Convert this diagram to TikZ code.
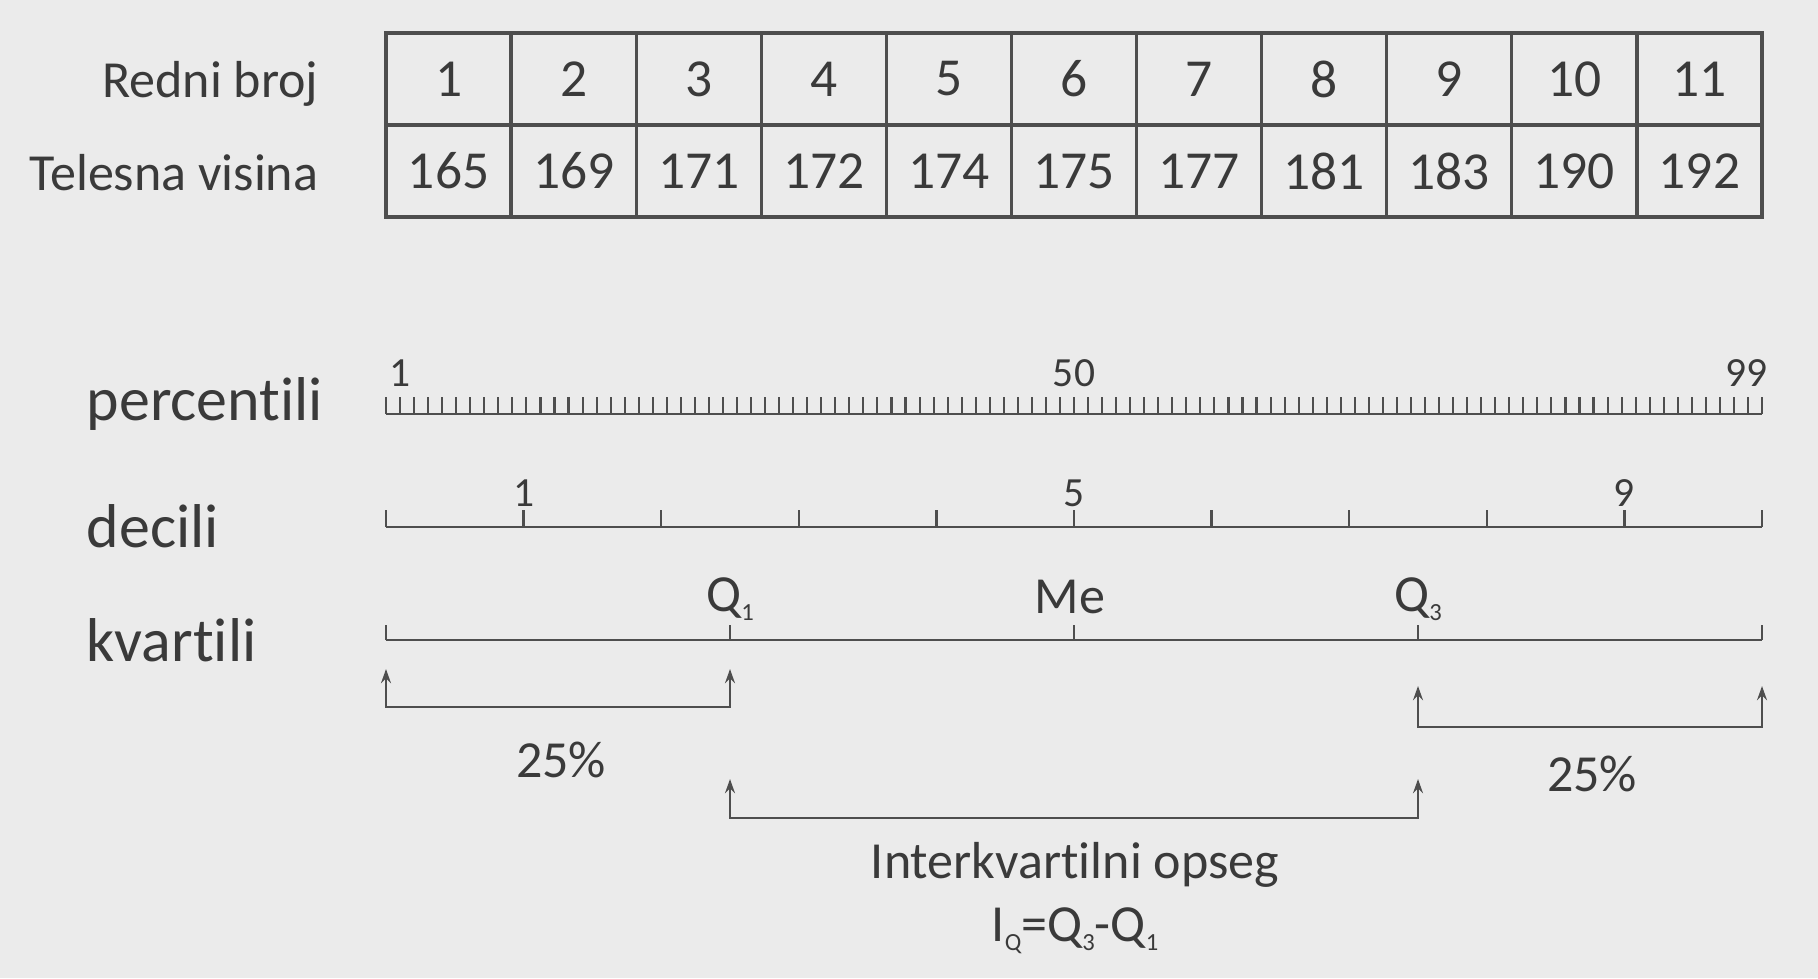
\documentclass[tikz,border=0pt]{standalone}
\usepackage{fontspec}
\setmainfont{Carlito}[Ligatures=NoCommon]
\usetikzlibrary{arrows.meta,positioning,calc}
\definecolor{bggray}{RGB}{235,235,235}
\definecolor{ink}{RGB}{58,58,58}
\definecolor{rule}{RGB}{78,78,78}
\newcommand{\lo}[1]{\raisebox{-0.4ex}{\fontsize{7}{7}\selectfont #1}}

\begin{document}
\begin{tikzpicture}[x=0.01cm,y=-0.01cm,
    c/.style={rectangle,draw=rule,line width=0.9pt,inner sep=0pt,outer sep=0pt,
      minimum width=1.251cm,minimum height=0.92cm,font=\fontsize{15.2}{18}\selectfont,text=ink},
    rl/.style={anchor=base east,inner sep=0pt,font=\fontsize{14.8}{17}\selectfont,text=ink},
    al/.style={anchor=base west,inner sep=0pt,font=\fontsize{17.6}{20}\selectfont,text=ink},
    tl/.style={anchor=base,inner sep=0pt,font=\fontsize{11.8}{13}\selectfont,text=ink},
    ql/.style={anchor=base,inner sep=0pt,font=\fontsize{14.8}{17}\selectfont,text=ink},
    ax/.style={draw=rule,line width=0.7pt},
    a/.style={{Stealth[length=4pt,width=2.8pt]}-{Stealth[length=4pt,width=2.8pt]},rule,line width=0.7pt}]
    \fill[bggray] (0,0) rectangle (1818,978);
    \useasboundingbox (0,0) rectangle (1818,978);
    % table
    \foreach \t [count=\i] in {165,169,171,172,174,175,177,181,183,190,192} {
      \node[c] (n\i) at ({386+(\i-0.5)*125.09},79) {\i};
      \node[c] (v\i) at ({386+(\i-0.5)*125.09},171) {\t};
    }
    \node[rl] (redni) at (319,97) {Redni broj};
    \node[rl] (visina) at (319,190) {Telesna visina};
    % scales
    \node[al] (perc) at (86,420) {percentili};
    \node[al] (dec) at (86,547) {decili};
    \node[al] (kvart) at (86,661) {kvartili};
    \coordinate (p0) at (386,414); \coordinate (p1) at (1762,414);
    \draw[ax] (p0) -- (p1);
    \foreach \i in {0,...,98} \draw[ax,line width=0.6pt] ({386+\i*14.0408},414) -- ++(0,-17);
    \node[tl,anchor=base west] (pa) at (389,386) {1};
    \node[tl] (pb) at (1074,386) {50};
    \node[tl,anchor=base east] (pc) at (1768,386) {99};
    \coordinate (d0) at (386,527); \coordinate (d1) at (1762,527);
    \draw[ax] (d0) -- (d1);
    \foreach \i in {0,...,10} \draw[ax] ({386+\i*137.6},527) -- ++(0,-17);
    \node[tl] (da) at (523.6,506) {1};
    \node[tl] (db) at (1074,506) {5};
    \node[tl] (dc) at (1624.4,506) {9};
    \foreach \i in {0,...,4} \coordinate (k\i) at ({386+\i*344},640);
    \draw[ax] (k0) -- (k4);
    \foreach \i in {0,...,4} \draw[ax] (k\i) -- ++(0,-15);
    \node[ql] (q1) at ($(k1)+(0,-29)$) {Q\lo{1}};
    \node[ql] (me) at ($(k2)+(-4,-27)$) {Me};
    \node[ql] (q3) at ($(k3)+(0,-29)$) {Q\lo{3}};
    % brackets
    \coordinate (t0) at (386,669); \coordinate (t1) at (730,669);
    \coordinate (t3) at (1418,686); \coordinate (t4) at (1762,686);
    \coordinate (m1) at (730,779); \coordinate (m3) at (1418,779);
    \draw[a] (t0) -- ++(0,38) -| (t1);
    \draw[a] (t3) -- ++(0,41) -| (t4);
    \draw[a] (m1) -- ++(0,39) -| (m3);
    \node[ql] (lo) at (561,777) {25\%};
    \node[ql] (hi) at (1592,791) {25\%};
    \node[ql] (iqr) at (1075,878) {Interkvartilni opseg};
    \node[ql] (iqf) at (1075,941) {I\lo{Q}=Q\lo{3}-Q\lo{1}};
  \end{tikzpicture}
\end{document}
